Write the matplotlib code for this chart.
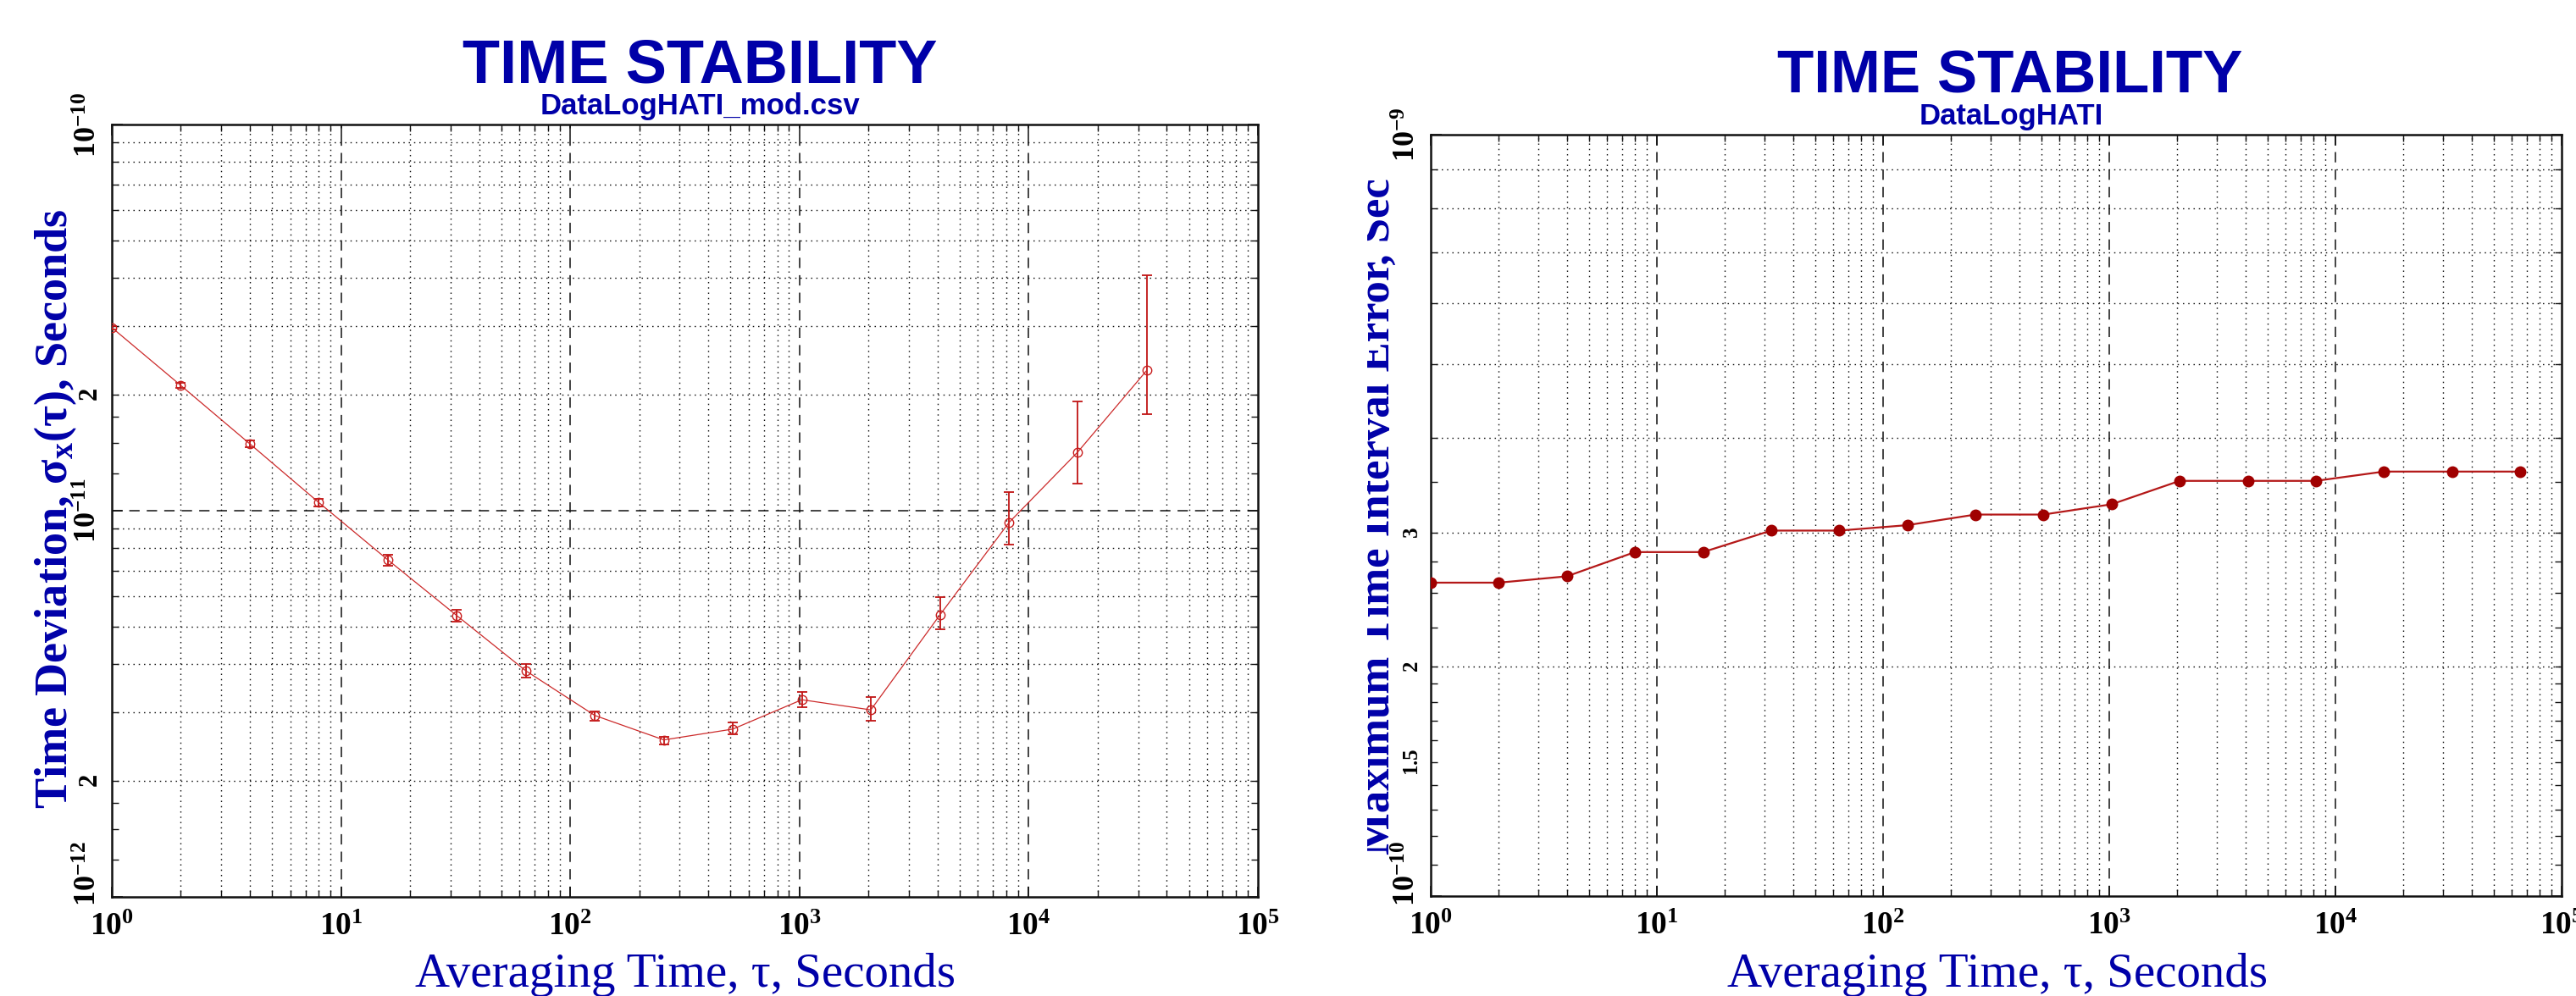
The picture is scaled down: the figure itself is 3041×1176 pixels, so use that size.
import matplotlib
matplotlib.use('Agg')
import matplotlib.pyplot as plt
from matplotlib.transforms import Bbox, TransformedBbox, ScaledTranslation

W, H, DPI = 3041, 1176, 100

# ---------------- data ----------------
# Left panel: Time deviation (TDEV) with error bars
tdev_tau = [1, 2, 4, 8, 16, 32, 64, 128, 256, 512, 1024, 2048, 4096, 8192, 16384, 32768]
tdev_val = [2.98e-11, 2.11e-11, 1.49e-11, 1.05e-11, 7.46e-12, 5.35e-12, 3.85e-12, 2.95e-12,
            2.55e-12, 2.72e-12, 3.24e-12, 3.05e-12, 5.37e-12, 9.31e-12, 1.42e-11, 2.31e-11]
tdev_lo = [2.95e-11, 2.08e-11, 1.46e-11, 1.025e-11, 7.2e-12, 5.15e-12, 3.7e-12, 2.86e-12,
           2.48e-12, 2.64e-12, 3.10e-12, 2.86e-12, 4.92e-12, 8.17e-12, 1.175e-11, 1.78e-11]
tdev_hi = [3.01e-11, 2.14e-11, 1.52e-11, 1.075e-11, 7.7e-12, 5.55e-12, 4.0e-12, 3.02e-12,
           2.60e-12, 2.83e-12, 3.40e-12, 3.29e-12, 5.96e-12, 1.12e-11, 1.92e-11, 4.08e-11]

# Right panel: MTIE
mtie_tau = [1, 2, 4, 8, 16, 32, 64, 128, 256, 512, 1024, 2048, 4096, 8192, 16384, 32768, 65536]
mtie_val = [2.58e-10, 2.58e-10, 2.63e-10, 2.83e-10, 2.83e-10, 3.02e-10, 3.02e-10, 3.07e-10,
            3.17e-10, 3.17e-10, 3.27e-10, 3.51e-10, 3.51e-10, 3.51e-10, 3.61e-10, 3.61e-10, 3.61e-10]

title_text = 'TIME STABILITY'
left_subtitle = 'DataLogHATI_mod.csv'
right_subtitle = 'DataLogHATI'
xlabel_text = 'Averaging Time, τ, Seconds'
left_ylabel = r'Time Deviation, $\mathregular{σ_x(τ)}$, Seconds'
right_ylabel = 'Maximum Time Interval Error, Sec'

x_ticks = [1e0, 1e1, 1e2, 1e3, 1e4, 1e5]
x_ticklabels = [r'$\mathregular{10^{0}}$', r'$\mathregular{10^{1}}$', r'$\mathregular{10^{2}}$',
                r'$\mathregular{10^{3}}$', r'$\mathregular{10^{4}}$', r'$\mathregular{10^{5}}$']

left_ytick_vals = [1e-12, 2e-12, 1e-11, 2e-11, 1e-10]
left_ytick_texts = [r'$\mathregular{10^{-12}}$', r'$\mathregular{2}$', r'$\mathregular{10^{-11}}$',
                    r'$\mathregular{2}$', r'$\mathregular{10^{-10}}$']
right_ytick_vals = [1e-10, 1.5e-10, 2e-10, 3e-10, 1e-9]
right_ytick_texts = [r'$\mathregular{10^{-10}}$', r'$\mathregular{1.5}$', r'$\mathregular{2}$',
                     r'$\mathregular{3}$', r'$\mathregular{10^{-9}}$']

BLUE = '#0000a8'
SERIF = 'Liberation Serif'
SANS = 'Liberation Sans'


def px(x):
    return x / W


def py(y):
    return 1 - y / H


fig = plt.figure(figsize=(W / DPI, H / DPI), dpi=DPI)
fig.patch.set_facecolor('white')

minor_x = [m * 10 ** d for d in range(5) for m in range(2, 10)]

DOT = dict(color='#111111', lw=1.0, ls=(0, (1.1, 3.4)), zorder=1)
DASH = dict(color='#111111', lw=1.1, ls=(0, (8, 5.5)), zorder=1)


def style_axes(ax, ylim, y_major, y_minor_ticks, y_grid_dotted, y_grid_dashed):
    ax.set_xscale('log')
    ax.set_yscale('log')
    ax.set_xlim(1, 1e5)
    ax.set_ylim(*ylim)
    for s in ax.spines.values():
        s.set_linewidth(1.8)
        s.set_color('#111111')
    ax.set_xticks(x_ticks, labels=x_ticklabels)
    ax.set_xticks(minor_x, minor=True)
    ax.set_yticks(y_major)
    ax.set_yticks(y_minor_ticks, minor=True)
    ax.tick_params(axis='both', which='both', direction='in', top=True, right=True,
                   color='#111111')
    ax.tick_params(axis='both', which='major', length=9, width=1.1)
    ax.tick_params(axis='both', which='minor', length=6, width=1.0)
    ax.tick_params(axis='y', which='both', labelleft=False)
    ax.tick_params(axis='x', which='minor', labelbottom=False)
    ax.tick_params(axis='x', which='major', pad=13, labelsize=27)
    for lab in ax.get_xticklabels():
        lab.set_family(SERIF)
        lab.set_weight('bold')
    # grid lines
    for v in x_ticks[1:-1]:
        ax.axvline(v, **DASH)
    for v in minor_x:
        ax.axvline(v, **DOT)
    for v in y_grid_dotted:
        ax.axhline(v, **DOT)
    for v in y_grid_dashed:
        ax.axhline(v, **DASH)


def y_ticklabels(ax, vals, texts, major_size, minor_size, bottom_shift_px):
    base = ax.get_yaxis_transform()
    for i, (v, t) in enumerate(zip(vals, texts)):
        is_decade = '10^' in t
        dy = bottom_shift_px if i == 0 else 0
        tr = base + ScaledTranslation(-10 / DPI, dy / DPI, fig.dpi_scale_trans)
        ax.text(0, v, t, transform=tr, rotation=90, ha='right', va='center',
                fontsize=major_size if is_decade else minor_size,
                family=SERIF, weight='bold', color='black', clip_on=False)


# ---------------- left panel ----------------
axL = fig.add_axes([px(132), py(1059), (1485 - 132) / W, (1059 - 147) / H])
left_minor_ticks = [m * 10 ** e for e in (-12, -11) for m in (1.25, 1.5, 1.75, 2, 3, 4, 5, 6, 7, 8, 9)]
left_dotted = [m * 10 ** e for e in (-12, -11) for m in range(2, 10)]
style_axes(axL, (1e-12, 1e-10), [1e-12, 1e-11, 1e-10], left_minor_ticks, left_dotted, [1e-11])

yerr = [[v - lo for v, lo in zip(tdev_val, tdev_lo)], [hi - v for v, hi in zip(tdev_val, tdev_hi)]]
axL.errorbar(tdev_tau, tdev_val, yerr=yerr, fmt='none', ecolor='#c01414', elinewidth=1.3,
             capsize=4, capthick=1.3, zorder=3)
axL.plot(tdev_tau, tdev_val, color='#cc2a2a', lw=0.9, marker='o', markersize=7.5,
         markerfacecolor='none', markeredgecolor='#c81c1c', markeredgewidth=1.0, zorder=4)
y_ticklabels(axL, left_ytick_vals, left_ytick_texts, 26, 22, 27)

fig.text(px(826), py(98), title_text, ha='center', va='baseline', fontsize=52,
         family=SANS, weight='bold', color=BLUE)
fig.text(px(826), py(135), left_subtitle, ha='center', va='baseline', fontsize=25,
         family=SANS, weight='bold', color=BLUE)
fig.text(px(809), py(1165), xlabel_text, ha='center', va='baseline', fontsize=41,
         family=SERIF, color=BLUE)
fig.text(px(79), py(601), left_ylabel, rotation=90, rotation_mode='anchor', ha='center',
         va='baseline', fontsize=39, family=SERIF, weight='bold', color=BLUE)

# ---------------- right panel ----------------
axR = fig.add_axes([px(1689), py(1058), (3024 - 1689) / W, (1058 - 159) / H])
right_minor_ticks = [m * 1e-10 for m in (1.1, 1.2, 1.3, 1.4, 1.5, 1.6, 1.7, 1.8, 1.9,
                                         2, 2.25, 2.5, 2.75, 3, 3.5, 4, 5, 6, 7, 8, 9)]
right_dotted = [m * 1e-10 for m in range(2, 10)]
style_axes(axR, (1e-10, 1e-9), [1e-10, 1e-9], right_minor_ticks, right_dotted, [])

axR.plot(mtie_tau, mtie_val, color='#b41818', lw=1.6, marker='o', markersize=9,
         markerfacecolor='#a00000', markeredgecolor='#a00000', zorder=4)
y_ticklabels(axR, right_ytick_vals, right_ytick_texts, 26, 18, 27)

fig.text(px(2373), py(110), title_text, ha='center', va='baseline', fontsize=51,
         family=SANS, weight='bold', color=BLUE)
fig.text(px(2374), py(147), right_subtitle, ha='center', va='baseline', fontsize=25,
         family=SANS, weight='bold', color=BLUE)
fig.text(px(2358), py(1165), xlabel_text, ha='center', va='baseline', fontsize=41,
         family=SERIF, color=BLUE)
ry = fig.text(px(1640), py(610), right_ylabel, rotation=90, rotation_mode='anchor', ha='center',
              va='baseline', fontsize=38, family=SERIF, weight='bold', color=BLUE)
ry.set_clip_box(TransformedBbox(Bbox([[px(1614), 0], [1, 1]]), fig.transFigure))
ry.set_clip_on(True)

fig.savefig('out.png', dpi=DPI, facecolor='white')
